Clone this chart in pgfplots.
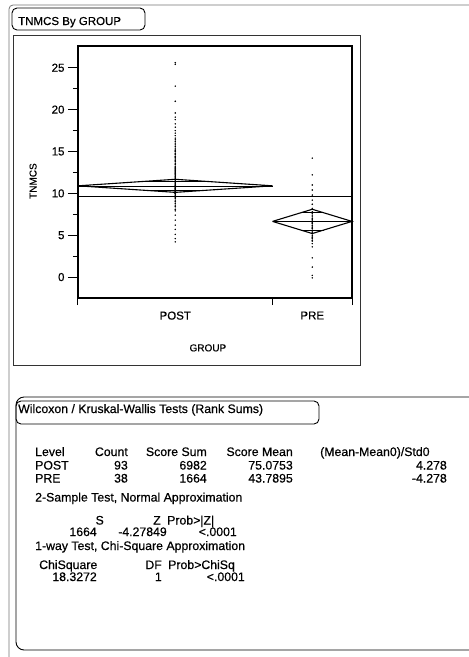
\documentclass[border=0pt]{standalone}
\usepackage{fontspec}
\setmainfont{Liberation Sans}[FakeBold=0.5]
\usepackage{pgfplots}
\usepackage{pgfplotstable}
\pgfplotsset{compat=1.18}

% TNMCS values, one column per group
\pgfplotstableread{
y
25.6
25.4
22.8
21.0
19.6
19.1
18.8
18.3
17.9
17.5
17.2
16.9
16.6
16.4
16.2
16.0
15.8
15.6
15.4
15.2
15.0
14.8
14.6
14.4
14.2
14.0
13.8
13.6
13.4
13.2
13.0
12.8
12.6
12.4
12.2
12.0
11.9
11.7
11.5
11.3
11.2
11.0
10.9
10.8
10.6
10.5
10.4
10.3
10.2
10.1
10.0
10.0
9.9
9.8
9.6
9.5
9.2
8.8
8.4
7.9
7.4
6.8
6.2
5.7
5.1
4.6
4.2
9.0
9.4
9.7
10.0
10.2
10.4
10.6
10.7
10.9
11.1
11.4
11.6
11.8
12.1
12.3
12.5
12.7
12.9
13.1
13.5
13.9
14.3
14.7
15.1
8.6
8.1
}\postdata

\pgfplotstableread{
y
14.2
12.2
11.0
10.4
9.8
9.2
8.7
8.2
7.8
7.6
7.4
7.2
7.0
6.9
6.7
6.6
6.5
6.4
6.2
6.1
5.9
5.8
5.6
5.5
5.3
5.2
5.0
4.9
4.7
4.6
4.4
4.3
4.0
3.6
2.3
1.2
0.2
-0.1
}\predata

\newcommand{\tf}{\fontsize{12.3}{14}\selectfont}

\begin{document}
\begin{tikzpicture}
\useasboundingbox (0pt,0pt) rectangle (469pt,-657pt);

\begin{scope}[x=1pt,y=-1pt]
  % outer report frame
  \draw[black!55, line width=0.8pt, rounded corners=4pt] (9,657) -- (9,5) -- (469,5);
  % plot panel
  \draw[black!80, line width=0.9pt] (13,35) rectangle (360,365);
  \draw[line width=0.9pt, rounded corners=5pt] (12,8) rectangle (145,30);
  \node[anchor=base west, inner sep=0, font=\fontsize{11.5}{13}\selectfont] at (18,25) {TNMCS By GROUP};

  % test results panel
  \draw[line width=0.9pt, rounded corners=8pt] (469,397) -- (16,397) -- (16,650) -- (469,650);
  \draw[line width=0.9pt, rounded corners=5pt] (16,401) rectangle (319,424);
  \node[anchor=base west, inner sep=0, font=\tf] at (18,413) {Wilcoxon / Kruskal-Wallis Tests (Rank Sums)};

  \begin{scope}[every node/.style={inner sep=0, font=\tf}]
    \node[anchor=base west] at (35,456) {Level};
    \node[anchor=base east] at (128,456) {Count};
    \node[anchor=base east] at (207,456) {Score Sum};
    \node[anchor=base east] at (293,456) {Score Mean};
    \node[anchor=base west] at (320,456) {(Mean-Mean0)/Std0};

    \node[anchor=base west] at (35,469.5) {POST};
    \node[anchor=base east] at (128,469.5) {93};
    \node[anchor=base east] at (207,469.5) {6982};
    \node[anchor=base east] at (293,469.5) {75.0753};
    \node[anchor=base east] at (447,469.5) {4.278};

    \node[anchor=base west] at (35,482.5) {PRE};
    \node[anchor=base east] at (128,482.5) {38};
    \node[anchor=base east] at (207,482.5) {1664};
    \node[anchor=base east] at (293,482.5) {43.7895};
    \node[anchor=base east] at (447,482.5) {-4.278};

    \node[anchor=base west] at (35,501.5) {2-Sample Test, Normal Approximation};
    \node[anchor=base east] at (104,524.5) {S};
    \node[anchor=base east] at (161,524.5) {Z};
    \node[anchor=base west] at (167,524.5) {Prob>|Z|};
    \node[anchor=base east] at (97,536) {1664};
    \node[anchor=base east] at (167,536) {-4.27849};
    \node[anchor=base east] at (237,536) {<.0001};

    \node[anchor=base west] at (35,550) {1-way Test, Chi-Square Approximation};
    \node[anchor=base west] at (39,569) {ChiSquare};
    \node[anchor=base east] at (162,569) {DF};
    \node[anchor=base west] at (168,569) {Prob>ChiSq};
    \node[anchor=base east] at (97,581) {18.3272};
    \node[anchor=base east] at (162,581) {1};
    \node[anchor=base east] at (245,581) {<.0001};
  \end{scope}
\end{scope}

\begin{axis}[
    at={(78pt,-298pt)}, anchor=south west,
    scale only axis,
    width=274pt, height=252pt,
    xmin=0, xmax=131,
    ymin=-2.5, ymax=27.6,
    clip=false,
    axis line style={line width=1.3pt},
    tick align=outside,
    major tick length=10pt,
    minor tick length=5pt,
    every tick/.style={black, line width=1pt},
    xtick pos=lower, ytick pos=left,
    ytick={0,5,10,15,20,25},
    minor y tick num=1,
    xtick={46.5,112},
    xticklabels={POST,PRE},
    xtick style={draw=none},
    extra x ticks={0,93,131},
    extra x tick labels={},
    extra x tick style={xtick style={draw=black}, major tick length=7pt},
    ticklabel style={font=\fontsize{11.5}{13}\selectfont},
    /pgf/number format/assume math mode=true,
    xlabel={GROUP},
    ylabel={TNMCS},
    label style={font=\fontsize{11.5}{13}\selectfont},
    every axis x label/.style={at={(axis description cs:0.474,-0.198)}, anchor=center},
    every axis y label/.style={at={(axis description cs:-0.164,0.464)}, rotate=90, anchor=center},
  ]
  % grand mean
  \addplot[black, line width=1pt] coordinates {(0,9.67) (131,9.67)};
  % observations
  \addplot[only marks, mark=*, mark size=0.5pt, black] table[x expr=46.5, y=y] {\postdata};
  \addplot[only marks, mark=*, mark size=0.5pt, black] table[x expr=112, y=y] {\predata};
  % means diamonds
  \addplot[black, line width=1.1pt] coordinates {(0,10.9) (46.5,11.68) (93,10.9) (46.5,10.12) (0,10.9)};
  \addplot[black, line width=0.6pt] coordinates {(0,10.9) (93,10.9)};
  \addplot[black, line width=0.6pt] coordinates {(32.8,11.45) (60.2,11.45)};
  \addplot[black, line width=0.6pt] coordinates {(32.8,10.35) (60.2,10.35)};
  \addplot[black, line width=1.1pt] coordinates {(93,6.65) (112,8.1) (131,6.65) (112,5.2) (93,6.65)};
  \addplot[black, line width=0.6pt] coordinates {(93,6.65) (131,6.65)};
  \addplot[black, line width=0.6pt] coordinates {(106.5,7.68) (117.5,7.68)};
  \addplot[black, line width=0.6pt] coordinates {(106.5,5.62) (117.5,5.62)};
\end{axis}
\end{tikzpicture}
\end{document}
